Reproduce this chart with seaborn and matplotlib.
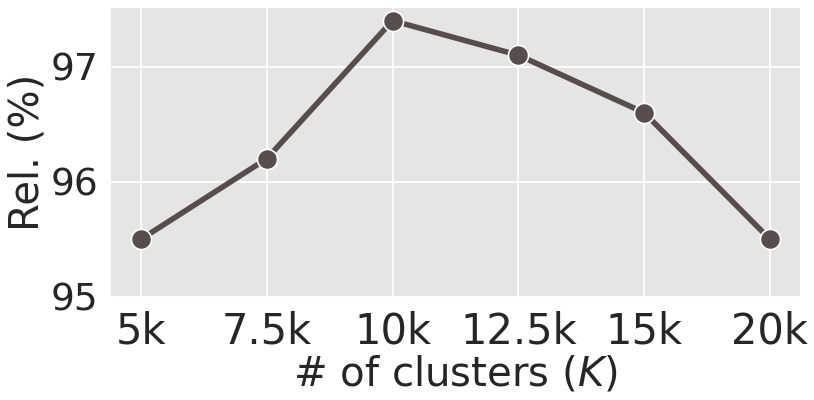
import matplotlib
matplotlib.use("Agg")
import matplotlib.pyplot as plt
import seaborn as sns
import pandas as pd

# ===== DATA =====
clusters = ["5k", "7.5k", "10k", "12.5k", "15k", "20k"]
rel = [95.5, 96.2, 97.4, 97.1, 96.6, 95.5]

sns.set_theme(style="darkgrid", rc={"axes.facecolor": "#e5e5e5", "grid.color": "white",
                                    "grid.linewidth": 1.3})
plt.rcParams['font.family'] = ['DejaVu Sans']

df = pd.DataFrame({"pos": range(len(clusters)), "rel": rel})

fig, ax = plt.subplots(figsize=(8.14, 4.0), dpi=100)
sns.lineplot(data=df, x="pos", y="rel", ax=ax, color="#574d4d", linewidth=4,
             marker="o", markersize=14.5, markeredgecolor="white", markeredgewidth=1.2)

ax.set_xticks(range(len(clusters)))
ax.set_xticklabels(clusters)
ax.set_xlim(-0.24, len(clusters) - 1 + 0.24)
ax.set_ylim(95, 97.51)
ax.set_yticks([95, 96, 97])
ax.tick_params(axis="x", labelsize=30, pad=4)
ax.tick_params(axis="y", labelsize=27, pad=3)
ax.set_xlabel("# of clusters ($K$)", fontsize=29, labelpad=1)
ax.set_ylabel("Rel. (%)", fontsize=29, labelpad=2)
for s in ax.spines.values():
    s.set_visible(False)

fig.subplots_adjust(left=0.136, right=0.983, top=0.98, bottom=0.258)
plt.savefig("out.png", dpi=100)
plt.close()
